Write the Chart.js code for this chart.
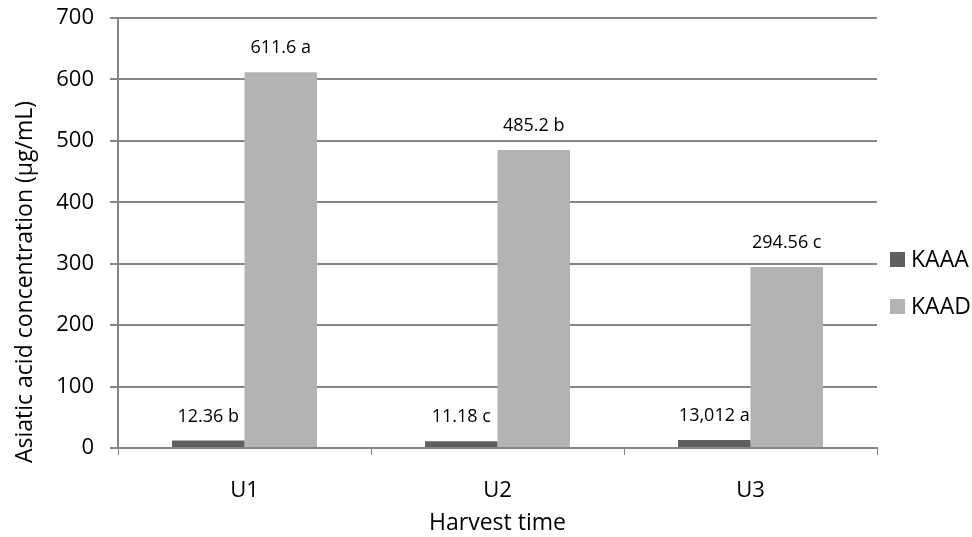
<!DOCTYPE html>
<html>
<head>
<meta charset="utf-8">
<script src="https://cdn.jsdelivr.net/npm/chart.js@4.4.0/dist/chart.umd.min.js"></script>
<style>
  html, body { margin: 0; padding: 0; background: #fff; }
  #wrap { width: 972px; height: 537px; }
</style>
</head>
<body>
<div id="wrap"><canvas id="grafico" width="972" height="537"></canvas></div>
<script>
// Dados do gráfico
const categorias = ['U1', 'U2', 'U3'];
const valoresKAAA = [12.36, 11.18, 13.012];
const valoresKAAD = [611.6, 485.2, 294.56];
const rotulosKAAA = ['12.36 b', '11.18 c', '13,012 a'];
const rotulosKAAD = ['611.6 a', '485.2 b', '294.56 c'];
const tituloY = 'Asiatic acid concentration (µg/mL)';

const fonte = "'Open Sans', 'Liberation Sans', sans-serif";
const corGrade = '#868686';

// Rótulos acima das barras
const pluginRotulos = {
    id: 'rotulos',
    afterDatasetsDraw(chart) {
        const ctx = chart.ctx;
        ctx.save();
        ctx.font = '18px ' + fonte;
        ctx.fillStyle = '#000';
        ctx.textAlign = 'center';
        ctx.textBaseline = 'middle';
        chart.data.datasets.forEach((ds, i) => {
            chart.getDatasetMeta(i).data.forEach((bar, j) => {
                ctx.fillText(ds.rotulos[j], bar.x, bar.y - 24);
            });
        });
        ctx.restore();
    }
};

// Legenda à direita e título do eixo Y (estilo Excel)
const pluginLegenda = {
    id: 'legendaDireita',
    afterDraw(chart) {
        const ctx = chart.ctx;
        ctx.save();
        ctx.font = '23px ' + fonte;
        ctx.textBaseline = 'middle';
        const ys = [259, 306];
        chart.data.datasets.forEach((ds, i) => {
            ctx.fillStyle = ds.backgroundColor;
            ctx.fillRect(890, ys[i] - 7, 15, 15);
            ctx.fillStyle = '#000';
            ctx.fillText(ds.label, 911, ys[i] + 1);
        });
        // título do eixo Y
        ctx.translate(25, 282);
        ctx.rotate(-Math.PI / 2);
        ctx.textAlign = 'center';
        ctx.fillText(tituloY, 0, 0);
        ctx.restore();
    }
};

new Chart(document.getElementById('grafico'), {
    type: 'bar',
    data: {
        labels: categorias,
        datasets: [
            {
                label: 'KAAA',
                data: valoresKAAA,
                rotulos: rotulosKAAA,
                backgroundColor: '#5f5f5f',
                categoryPercentage: 0.573,
                barPercentage: 1
            },
            {
                label: 'KAAD',
                data: valoresKAAD,
                rotulos: rotulosKAAD,
                backgroundColor: '#b3b3b3',
                categoryPercentage: 0.573,
                barPercentage: 1
            }
        ]
    },
    options: {
        responsive: false,
        animation: false,
        layout: { padding: { top: 18, right: 95, left: 0, bottom: 0 } },
        plugins: {
            legend: { display: false },
            tooltip: { enabled: false }
        },
        scales: {
            x: {
                afterFit(scale) { scale.height = 89; },
                grid: {
                    drawOnChartArea: false,
                    color: corGrade,
                    tickLength: 7,
                    offset: true
                },
                border: { color: corGrade, width: 2 },
                ticks: { color: '#000', font: { size: 22, family: fonte }, padding: 23 },
                title: {
                    display: true,
                    text: 'Harvest time',
                    color: '#000',
                    font: { size: 23, family: fonte },
                    padding: { top: 0, bottom: 0 }
                }
            },
            y: {
                min: 0,
                max: 700,
                afterFit(scale) {
                    scale.width = 118;
                    scale.paddingTop = 0;
                    scale.paddingBottom = 0;
                },
                grid: { color: corGrade, lineWidth: 2, tickLength: 8 },
                border: { color: corGrade, width: 2 },
                ticks: { stepSize: 100, color: '#000', font: { size: 22, family: fonte }, padding: 16 }
            }
        }
    },
    plugins: [pluginRotulos, pluginLegenda]
});
</script>
</body>
</html>
